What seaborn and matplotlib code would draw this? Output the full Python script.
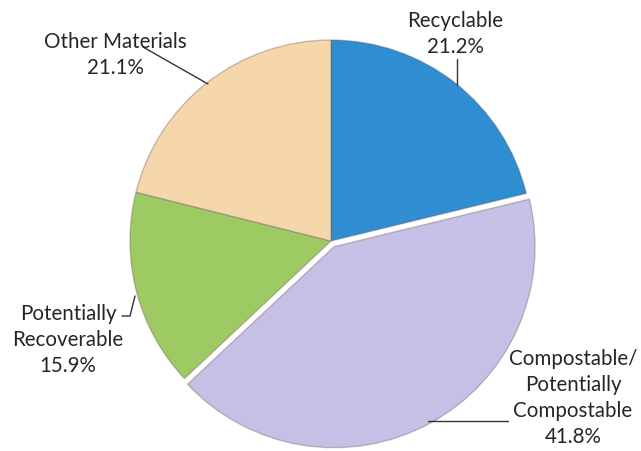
import matplotlib
matplotlib.use("Agg")
import matplotlib.pyplot as plt
import seaborn as sns

categories = ["Recyclable", "Compostable/\nPotentially\nCompostable", "Potentially\nRecoverable", "Other Materials"]
shares = [21.2, 41.8, 15.9, 21.1]
pct_labels = ["21.2%", "41.8%", "15.9%", "21.1%"]
colors = ["#2f8dd2", "#c7c0e6", "#9dca63", "#f6d6ab"]
explode_frac = [0, 0.032, 0, 0]

sns.set_theme(style="white")
plt.rcParams['font.family'] = ['Lato', 'DejaVu Sans']

W, H = 641, 452
fig = plt.figure(figsize=(W / 100, H / 100), dpi=100)
ax = fig.add_axes([0, 0, 1, 1])

def Y(y):
    return H - y

cx, cy, r = 331, 242, 201
ax.pie(shares, colors=colors, explode=[e * r for e in explode_frac], startangle=90,
       counterclock=False, center=(cx, Y(cy)), radius=r, frame=True,
       wedgeprops=dict(edgecolor=(0.4, 0.33, 0.33, 0.35), linewidth=1.0))
ax.set_xlim(0, W)
ax.set_ylim(0, H)
ax.set_aspect('equal')
ax.axis('off')

fs = 14.8
txt = dict(ha='center', va='center', fontsize=fs, color='#262626', linespacing=1.38)

# Recyclable
ax.text(455, Y(34), categories[0] + "\n" + pct_labels[0], **txt)
ax.plot([457, 457], [Y(60), Y(86)], color='#333333', lw=1)

# Other Materials
ax.text(115, Y(55), categories[3] + "\n" + pct_labels[3], **txt)
ax.plot([143, 208], [Y(48), Y(85)], color='#333333', lw=1)

# Potentially Recoverable
ax.text(68, Y(340), categories[2] + "\n" + pct_labels[2], **txt)
ax.plot([122, 130, 135], [Y(317), Y(317), Y(297)], color='#333333', lw=1)

# Compostable
ax.text(573, Y(398), categories[1] + "\n" + pct_labels[1], **txt)
ax.plot([428, 508], [Y(422), Y(422)], color='#333333', lw=1)

fig.savefig("out.png", dpi=100)
